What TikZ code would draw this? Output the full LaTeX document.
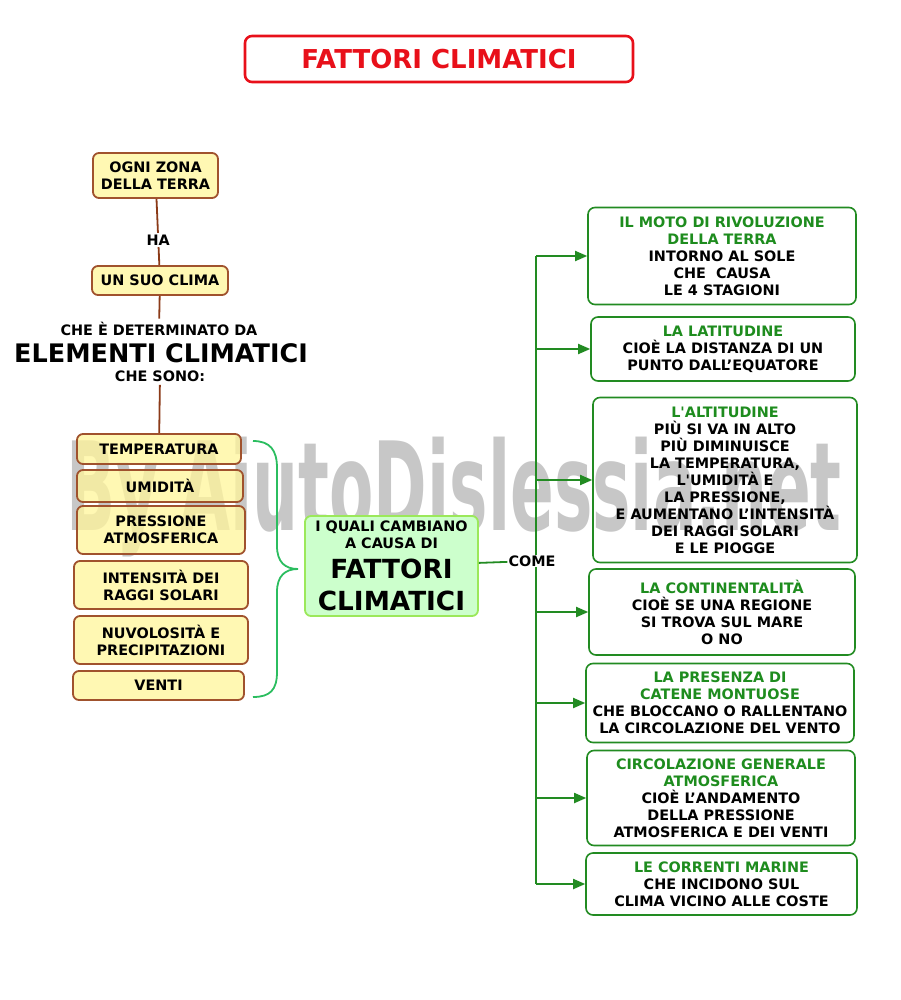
\documentclass[tikz,border=0pt]{standalone}
\usepackage{fontspec}
\newfontfamily\mapfont{DejaVu Sans}
\usetikzlibrary{arrows.meta}

\definecolor{titlered}{HTML}{E8101A}
\definecolor{boxyellow}{HTML}{FFF59A}
\definecolor{boxbrown}{HTML}{A0522D}
\definecolor{linebrown}{HTML}{8B3A18}
\definecolor{causefill}{HTML}{CCFFCC}
\definecolor{causeline}{HTML}{9BE85A}
\definecolor{bracegreen}{HTML}{2BBD5F}
\definecolor{factgreen}{HTML}{228B22}
\definecolor{textgreen}{HTML}{1E8C1E}
\definecolor{markgray}{HTML}{909090}

\newcommand{\grn}[1]{\textcolor{textgreen}{#1}}

\begin{document}
\begin{tikzpicture}[x=1pt,y=-1pt,every node/.style={font=\mapfont\bfseries\fontsize{14.4}{17}\selectfont,align=center}]
    \useasboundingbox (0,0) rectangle (900,1000);
    % watermark, behind everything
    \node[text=markgray,text opacity=0.5,font=\mapfont\bfseries\fontsize{123}{123}\selectfont,xscale=0.525,anchor=base west] (wm) at (65,530) {By AiutoDislessia.net};
    \begin{scope}[elem/.style={draw=boxbrown,fill=boxyellow,fill opacity=0.75,text opacity=1,rounded corners=6pt,line width=1.8pt,inner sep=0pt},
                  fact/.style={draw=factgreen,rounded corners=7pt,line width=1.6pt,inner sep=0pt},
                  brownline/.style={draw=linebrown,line width=1.8pt},
                  factline/.style={draw=factgreen,line width=1.8pt}]
        \node[draw=titlered,text=titlered,rounded corners=7pt,line width=2.6pt,minimum width=388,minimum height=46,font=\mapfont\bfseries\fontsize{26}{28}\selectfont] (t0) at (439, 59) {FATTORI CLIMATICI};
        \node[elem, minimum width=125, minimum height=45] (z1) at (155.5, 175.5) {OGNI ZONA\\DELLA TERRA};
        \node[elem, minimum width=136, minimum height=29] (z2) at (160, 280.5) {UN SUO CLIMA};
        \node[] (d1) at (159, 329) {CHE È DETERMINATO DA};
        \node[font=\mapfont\bfseries\fontsize{25.5}{27}\selectfont] (d2) at (161, 353) {ELEMENTI CLIMATICI};
        \node[] (d3) at (160, 376) {CHE SONO:};
        \node[elem, minimum width=164, minimum height=30] (e1) at (159, 449) {TEMPERATURA};
        \node[elem, minimum width=166, minimum height=32] (e2) at (160, 486) {UMIDITÀ};
        \node[elem, minimum width=168, minimum height=48] (e3) at (161, 530) {PRESSIONE\\ATMOSFERICA};
        \node[elem, minimum width=174, minimum height=48] (e4) at (161, 585) {INTENSITÀ DEI\\RAGGI SOLARI};
        \node[elem, minimum width=174, minimum height=48] (e5) at (161, 640) {NUVOLOSITÀ E\\PRECIPITAZIONI};
        \node[elem, minimum width=171, minimum height=29] (e6) at (158.5, 685.5) {VENTI};
        \node[draw=causeline,fill=causefill,rounded corners=6pt,line width=1.8pt,inner sep=0pt,minimum width=173,minimum height=100] (c0) at (391.5, 566) {I QUALI CAMBIANO\\A CAUSA DI\\[9pt]\fontsize{26.3}{29}\selectfont FATTORI\\[12pt]\fontsize{26.3}{29}\selectfont CLIMATICI};
        \node[fact, minimum width=268, minimum height=97] (f1) at (722, 256) {\grn{IL MOTO DI RIVOLUZIONE}\\\grn{DELLA TERRA}\\INTORNO AL SOLE\\CHE\ \ CAUSA\\LE 4 STAGIONI};
        \node[fact, minimum width=264, minimum height=64] (f2) at (723, 349) {\grn{LA LATITUDINE}\\CIOÈ LA DISTANZA DI UN\\PUNTO DALL’EQUATORE};
        \node[fact, minimum width=264, minimum height=165] (f3) at (725, 480) {\grn{L'ALTITUDINE}\\PIÙ SI VA IN ALTO\\PIÙ DIMINUISCE\\LA TEMPERATURA,\\L'UMIDITÀ E\\LA PRESSIONE,\\E AUMENTANO L’INTENSITÀ\\DEI RAGGI SOLARI\\E LE PIOGGE};
        \node[fact, minimum width=266, minimum height=86] (f4) at (722, 612) {\grn{LA CONTINENTALITÀ}\\CIOÈ SE UNA REGIONE\\SI TROVA SUL MARE\\O NO};
        \node[fact, minimum width=268, minimum height=79] (f5) at (720, 703) {\grn{LA PRESENZA DI}\\\grn{CATENE MONTUOSE}\\CHE BLOCCANO O RALLENTANO\\LA CIRCOLAZIONE DEL VENTO};
        \node[fact, minimum width=268, minimum height=95] (f6) at (721, 798) {\grn{CIRCOLAZIONE GENERALE}\\\grn{ATMOSFERICA}\\CIOÈ L’ANDAMENTO\\DELLA PRESSIONE\\ATMOSFERICA E DEI VENTI};
        \node[fact, minimum width=271, minimum height=62] (f7) at (721.5, 884) {\grn{LE CORRENTI MARINE}\\CHE INCIDONO SUL\\CLIMA VICINO ALLE COSTE};
        % left chain
        \draw[brownline] (z1) -- node[pos=0.62,fill=white,inner sep=2pt] {HA} (z2);
        \draw[brownline] (z2) -- (d1);
        \draw[brownline] (d3) -- (e1);
        % brace towards the green box
        \coordinate (bt) at (298, 569);
        \draw[draw=bracegreen,line width=1.8pt] (253, 441) .. controls (270, 441) and (277, 450) .. (277, 468) -- (277, 546) .. controls (277, 562) and (285, 569) .. (bt)
            .. controls (285, 569) and (277, 576) .. (277, 592) -- (277, 672) .. controls (277, 690) and (270, 697) .. (253, 697);
        % trunk and arrows
        \coordinate (tr) at (536, 561);
        \draw[factline] (tr |- f1.west) -- (tr |- f7.west);
        \foreach \i in {1,...,7}
            \draw[factline,-{Triangle[length=12pt,width=10pt]}] (tr |- f\i.west) -- (f\i.west);
        \node[fill=white,inner sep=1pt] (come) at (532, 561) {COME};
        \draw[factline] (c0) -- (come);
    \end{scope}
\end{tikzpicture}
\end{document}
